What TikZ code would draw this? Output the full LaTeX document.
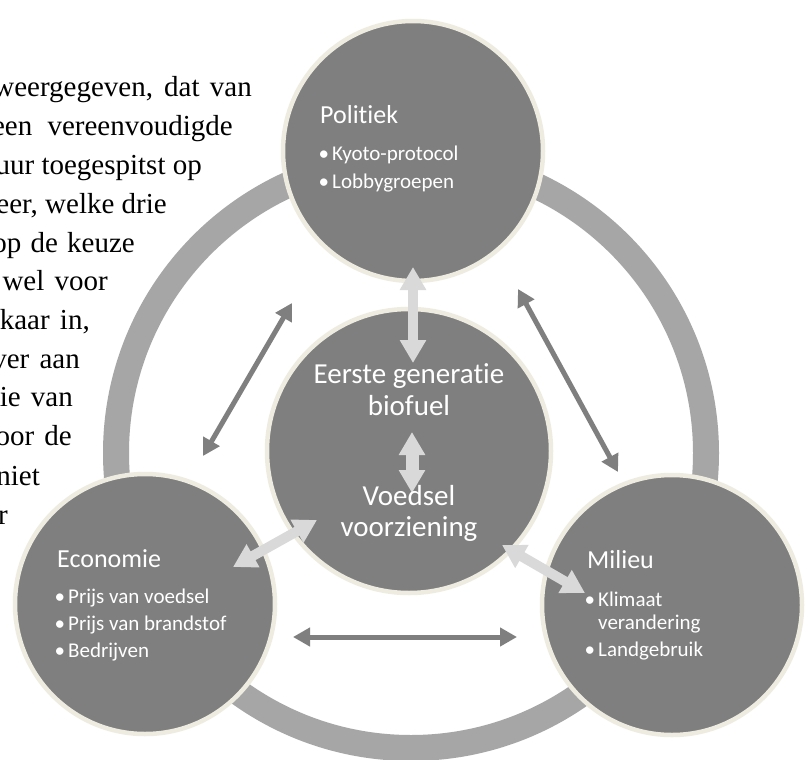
\documentclass[tikz,border=0pt]{standalone}
\usepackage{fontspec}
\setmainfont{Liberation Serif}
\newfontfamily\calfont[Ligatures={NoCommon}]{Carlito}
\usetikzlibrary{arrows.meta}
\definecolor{circfill}{HTML}{7F7F7F}
\definecolor{circedge}{HTML}{EEECE1}
\definecolor{ringgray}{HTML}{A6A6A6}
\definecolor{darkarr}{HTML}{7F7F7F}
\definecolor{lightarr}{HTML}{D9D9D9}
\newcommand\bulit{\llap{•\hspace{3pt}}}
\begin{document}
\begin{tikzpicture}[x=1pt,y=-1pt,
  bubble/.style={circle, fill=circfill, draw=circedge, line width=4.5pt, minimum size=260pt, inner sep=0pt},
  hub/.style={bubble, minimum size=284pt},
  ringstyle/.style={draw=ringgray, line width=26pt},
  darkarrow/.style={draw=darkarr, line width=5pt, {Triangle[length=17pt,width=18pt]}-{Triangle[length=17pt,width=18pt]}},
  lightarrow/.style={draw=lightarr, line width=10pt, {Triangle[length=23pt,width=25pt]}-{Triangle[length=23pt,width=25pt]}},
  headtext/.style={text=white, font=\calfont\fontsize{26}{31}\selectfont, anchor=base west, inner sep=0pt},
  itemtext/.style={text=white, font=\calfont\fontsize{21}{25}\selectfont, anchor=base west, inner sep=0pt},
  hubtext/.style={text=white, font=\calfont\fontsize{29}{35}\selectfont, anchor=base, inner sep=0pt},
  bodytext/.style={text=black, font=\fontsize{29}{35}\selectfont, anchor=base east, inner sep=0pt},
]
\useasboundingbox (0,0) rectangle (806,760);
\fill[white] (0,0) rectangle (806,760);

% body text on the left
\node[bodytext] (l1) at (252,96) {weergegeven,\hspace{4pt} dat\hspace{3pt} van};
\node[bodytext] (l2) at (233,135) {een\hspace{8pt} vereenvoudigde};
\node[bodytext] (l3) at (202,174) {uur toegespitst op};
\node[bodytext] (l4) at (167,213) {eer, welke drie};
\node[bodytext] (l5) at (135,252) {op\hspace{2pt} de\hspace{2pt} keuze};
\node[bodytext] (l6) at (108,290) {wel\hspace{3pt} voor};
\node[bodytext] (l7) at (90,329) {kaar\hspace{3pt} in,};
\node[bodytext] (l8) at (80,368) {ver\hspace{3pt} aan};
\node[bodytext] (l9) at (73,406) {ie\hspace{3pt} van};
\node[bodytext] (l10) at (72,445) {oor\hspace{3pt} de};
\node[bodytext] (l11) at (40,485) {niet};
\node[bodytext] (l12) at (8,524) {r};

% ring
\coordinate (ringc) at (411,453);
\draw[ringstyle] (ringc) circle[radius=295pt];

% circles
\node[bubble] (pol) at (413,151) {};
\node[bubble] (eco) at (145,604) {};
\node[bubble] (mil) at (672,605) {};
\node[hub] (bio) at (409,451) {};

% dark arrows between outer circles
\coordinate (a1) at (292,303);
\coordinate (a2) at (203,456);
\coordinate (b1) at (518,289);
\coordinate (b2) at (618,472);
\coordinate (c1) at (293,637);
\coordinate (c2) at (517,637);
\draw[darkarrow] (a1) -- (a2);
\draw[darkarrow] (b1) -- (b2);
\draw[darkarrow] (c1) -- (c2);

% light arrows
\coordinate (d1) at (413,267);
\coordinate (d2) at (413,363);
\draw[lightarrow] (d1) -- (d2);
\coordinate (e1) at (412,432);
\coordinate (e2) at (412,493);
\draw[lightarrow, line width=13pt] (e1) -- (e2);
\coordinate (f1) at (233,567);
\coordinate (f2) at (317,520);
\draw[lightarrow] (f1) -- (f2);
\coordinate (g1) at (502,545);
\coordinate (g2) at (585,593);
\draw[lightarrow] (g1) -- (g2);

% texts
\node[headtext] (polh) at (320,123) {Politiek};
\node[itemtext] (pol1) at (332,160) {\bulit Kyoto-protocol};
\node[itemtext] (pol2) at (332,188) {\bulit Lobbygroepen};

\node[hubtext] (bio1) at (409,383) {Eerste generatie};
\node[hubtext] (bio2) at (409,415) {biofuel};
\node[hubtext] (bio3) at (409,505) {Voedsel};
\node[hubtext] (bio4) at (409,536) {voorziening};

\node[headtext] (ecoh) at (57,567) {Economie};
\node[itemtext] (eco1) at (68,603) {\bulit Prijs van voedsel};
\node[itemtext] (eco2) at (68,630) {\bulit Prijs van brandstof};
\node[itemtext] (eco3) at (68,657) {\bulit Bedrijven};

\node[headtext] (milh) at (587,568) {Milieu};
\node[itemtext] (mil1) at (598,606) {\bulit Klimaat};
\node[itemtext] (mil2) at (598,629) {verandering};
\node[itemtext] (mil3) at (598,656) {\bulit Landgebruik};
\end{tikzpicture}
\end{document}
